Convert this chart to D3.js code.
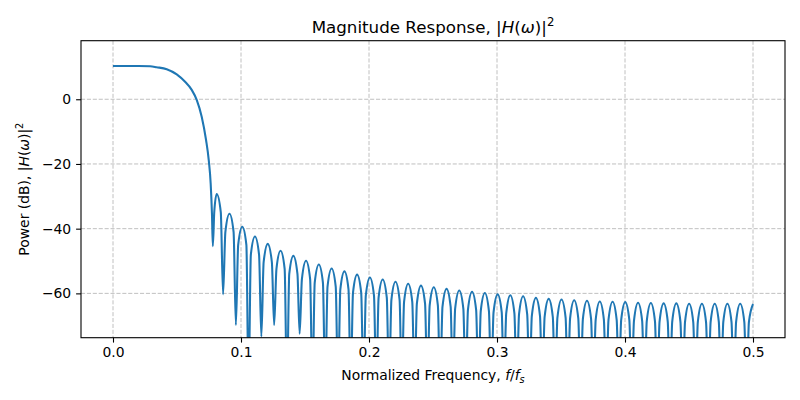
<!DOCTYPE html>
<html>
<head>
<meta charset="utf-8">
<script src="https://cdn.jsdelivr.net/npm/d3@7"></script>
<style>
  html, body { margin: 0; padding: 0; background: #ffffff; }
  svg { display: block; font-family: "DejaVu Sans", sans-serif; }
</style>
</head>
<body>
<svg id="chart" width="800" height="400"></svg>
<script>
// ---------------- data ----------------
const xTicks = [0.0, 0.1, 0.2, 0.3, 0.4, 0.5];
const yTicks = [-60, -40, -20, 0];

// passband and transition band
const passFreq = [0.0, 0.010, 0.020, 0.029, 0.0341, 0.0420, 0.0498, 0.0563, 0.0615, 0.0654, 0.0693, 0.0727, 0.0748, 0.0763, 0.0773];
const passDb   = [10.3, 10.3, 10.3, 10.2, 9.9, 9.3, 7.7, 5.4, 2.9, -0.2, -5.4, -12.6, -18.8, -26.0, -35.3];

// stop-band nulls (deep ones fall below the visible axis)
const nullFreq = [0.0780, 0.0860, 0.0960, 0.1059, 0.1159, 0.1259, 0.1359, 0.1458, 0.1558, 0.1658,
                  0.1758, 0.1857, 0.1957, 0.2057, 0.2157, 0.2256, 0.2356, 0.2456, 0.2556, 0.2655,
                  0.2755, 0.2855, 0.2955, 0.3054, 0.3154, 0.3254, 0.3354, 0.3454, 0.3553, 0.3653,
                  0.3753, 0.3853, 0.3952, 0.4052, 0.4152, 0.4252, 0.4351, 0.4451, 0.4551, 0.4651,
                  0.4750, 0.4850, 0.4950];
const nullDb   = [-45.4, -60.3, -69.8, -90, -73.4, -69.8, -90, -72.5, -90, -90,
                  -90, -90, -90, -90, -90, -90, -90, -90, -90, -90,
                  -90, -90, -90, -90, -90, -90, -90, -90, -90, -90,
                  -90, -90, -90, -90, -90, -90, -90, -90, -90, -90,
                  -90, -90, -90];

// side-lobe peaks
const peakFreq = [0.0810, 0.0910, 0.1010, 0.1109, 0.1209, 0.1309, 0.1409, 0.1508, 0.1608, 0.1708,
                  0.1808, 0.1907, 0.2007, 0.2107, 0.2207, 0.2306, 0.2406, 0.2506, 0.2606, 0.2705,
                  0.2805, 0.2905, 0.3005, 0.3104, 0.3204, 0.3304, 0.3404, 0.3504, 0.3603, 0.3703,
                  0.3803, 0.3903, 0.4002, 0.4102, 0.4202, 0.4302, 0.4401, 0.4501, 0.4601, 0.4701,
                  0.4800, 0.4900, 0.5000];
const peakDb   = [-29.3, -35.4, -39.4, -42.4, -44.7, -46.8, -48.4, -49.9, -51.1, -52.3,
                  -53.2, -54.2, -55.1, -55.7, -56.4, -57.0, -57.6, -58.1, -58.6, -59.1,
                  -59.5, -59.9, -60.3, -60.6, -60.9, -61.4, -61.7, -61.9, -62.1, -62.3,
                  -62.5, -62.6, -62.7, -62.9, -63.0, -63.1, -63.1, -63.2, -63.2, -63.2,
                  -63.2, -63.2, -63.3];

// lobe shoulders (points on the flanks of each side lobe)
const shoulderLeftFreq  = [0.0791, 0.0878, 0.0978, 0.1077, 0.1177, 0.1277, 0.1377, 0.1476, 0.1576, 0.1676,
                           0.1776, 0.1875, 0.1975, 0.2075, 0.2175, 0.2274, 0.2374, 0.2474, 0.2574, 0.2673,
                           0.2773, 0.2873, 0.2973, 0.3072, 0.3172, 0.3272, 0.3372, 0.3472, 0.3571, 0.3671,
                           0.3771, 0.3871, 0.3970, 0.4070, 0.4170, 0.4270, 0.4369, 0.4469, 0.4569, 0.4669,
                           0.4768, 0.4868, 0.4968];
const shoulderRightFreq = [0.0842, 0.0942, 0.1042, 0.1141, 0.1241, 0.1341, 0.1441, 0.1540, 0.1640, 0.1740,
                           0.1840, 0.1939, 0.2039, 0.2139, 0.2239, 0.2338, 0.2438, 0.2538, 0.2638, 0.2737,
                           0.2837, 0.2937, 0.3037, 0.3136, 0.3236, 0.3336, 0.3436, 0.3536, 0.3635, 0.3735,
                           0.3835, 0.3935, 0.4034, 0.4134, 0.4234, 0.4334, 0.4433, 0.4533, 0.4633, 0.4733,
                           0.4832, 0.4932];
const shoulderDb        = [-34.9, -41.0, -45.0, -48.0, -50.3, -52.4, -54.0, -55.5, -56.7, -57.9,
                           -58.8, -59.8, -60.7, -61.3, -62.0, -62.6, -63.2, -63.7, -64.2, -64.7,
                           -65.1, -65.5, -65.9, -66.2, -66.5, -67.0, -67.3, -67.5, -67.7, -67.9,
                           -68.1, -68.2, -68.3, -68.5, -68.6, -68.7, -68.7, -68.8, -68.8, -68.8,
                           -68.8, -68.8, -68.9];

// ---------------- build series ----------------
const pts = [];
passFreq.forEach((f, i) => pts.push([f, passDb[i]]));
nullFreq.forEach((f, i) => pts.push([f, nullDb[i]]));
peakFreq.forEach((f, i) => pts.push([f, peakDb[i]]));
shoulderLeftFreq.forEach((f, i) => pts.push([f, shoulderDb[i]]));
shoulderRightFreq.forEach((f, i) => pts.push([f, shoulderDb[i]]));
pts.sort((a, b) => a[0] - b[0]);

// ---------------- layout ----------------
const svg = d3.select("#chart");
const L = 81, R = 785, T = 40.7, B = 337.7;
const x = d3.scaleLinear().domain([-0.025, 0.525]).range([L, R]);
const y = d3.scaleLinear().domain([-73.7, 18.1]).range([B, T]);

svg.append("rect").attr("width", 800).attr("height", 400).attr("fill", "#ffffff");

svg.append("defs").append("clipPath").attr("id", "plotclip")
  .append("rect").attr("x", L).attr("y", T).attr("width", R - L).attr("height", B - T);

// grid
const grid = svg.append("g").attr("stroke", "#b0b0b0").attr("stroke-width", 0.8)
  .attr("stroke-dasharray", "4.1,1.8").attr("fill", "none");
xTicks.forEach(t => grid.append("line").attr("x1", x(t)).attr("x2", x(t)).attr("y1", T).attr("y2", B));
yTicks.forEach(t => grid.append("line").attr("x1", L).attr("x2", R).attr("y1", y(t)).attr("y2", y(t)));

// curve
const line = d3.line().x(d => x(d[0])).y(d => y(d[1])).curve(d3.curveMonotoneX);
svg.append("path").datum(pts)
  .attr("clip-path", "url(#plotclip)")
  .attr("d", line)
  .attr("fill", "none")
  .attr("stroke", "#1f77b4")
  .attr("stroke-width", 2.08)
  .attr("stroke-linejoin", "round")
  .attr("stroke-linecap", "butt");

// axes
const fmtX = d => d.toFixed(1);
const fmtY = d => (d < 0 ? "\u2212" + Math.abs(d) : "" + d);
const xAxis = d3.axisBottom(x).tickValues(xTicks).tickFormat(fmtX).tickSize(4.9).tickPadding(4.9);
const yAxis = d3.axisLeft(y).tickValues(yTicks).tickFormat(fmtY).tickSize(4.9).tickPadding(4.9);

const gx = svg.append("g").attr("transform", `translate(0,${B})`).call(xAxis);
const gy = svg.append("g").attr("transform", `translate(${L},0)`).call(yAxis);
[gx, gy].forEach(g => {
  g.select(".domain").remove();
  g.selectAll(".tick line").attr("stroke", "#000").attr("stroke-width", 1.1);
  g.selectAll(".tick text").attr("fill", "#000").style("font-size", "13.9px")
    .style("font-family", "'DejaVu Sans', sans-serif");
});

// spines
svg.append("rect").attr("x", L).attr("y", T).attr("width", R - L).attr("height", B - T)
  .attr("fill", "none").attr("stroke", "#000").attr("stroke-width", 1.1);

// title
const title = svg.append("text").attr("x", (L + R) / 2).attr("y", 32.5)
  .attr("text-anchor", "middle").style("font-size", "16.7px").attr("fill", "#000");
title.append("tspan").text("Magnitude Response, |");
title.append("tspan").style("font-style", "italic").text("H");
title.append("tspan").text("(");
title.append("tspan").style("font-style", "italic").text("\u03c9");
title.append("tspan").text(")|");
title.append("tspan").attr("dy", -7).style("font-size", "11.7px").text("2");

// x label
const xl = svg.append("text").attr("x", (L + R) / 2).attr("y", 380)
  .attr("text-anchor", "middle").style("font-size", "13.9px").attr("fill", "#000");
xl.append("tspan").text("Normalized Frequency, ");
xl.append("tspan").style("font-style", "italic").text("f");
xl.append("tspan").text("/");
xl.append("tspan").style("font-style", "italic").text("f");
xl.append("tspan").attr("dy", 3).style("font-size", "9.7px").style("font-style", "italic").text("s");

// y label
const yl = svg.append("text")
  .attr("transform", `translate(29,${(T + B) / 2}) rotate(-90)`)
  .attr("text-anchor", "middle").style("font-size", "13.9px").attr("fill", "#000");
yl.append("tspan").text("Power (dB), |");
yl.append("tspan").style("font-style", "italic").text("H");
yl.append("tspan").text("(");
yl.append("tspan").style("font-style", "italic").text("\u03c9");
yl.append("tspan").text(")|");
yl.append("tspan").attr("dy", -6).style("font-size", "9.7px").text("2");
</script>
</body>
</html>
